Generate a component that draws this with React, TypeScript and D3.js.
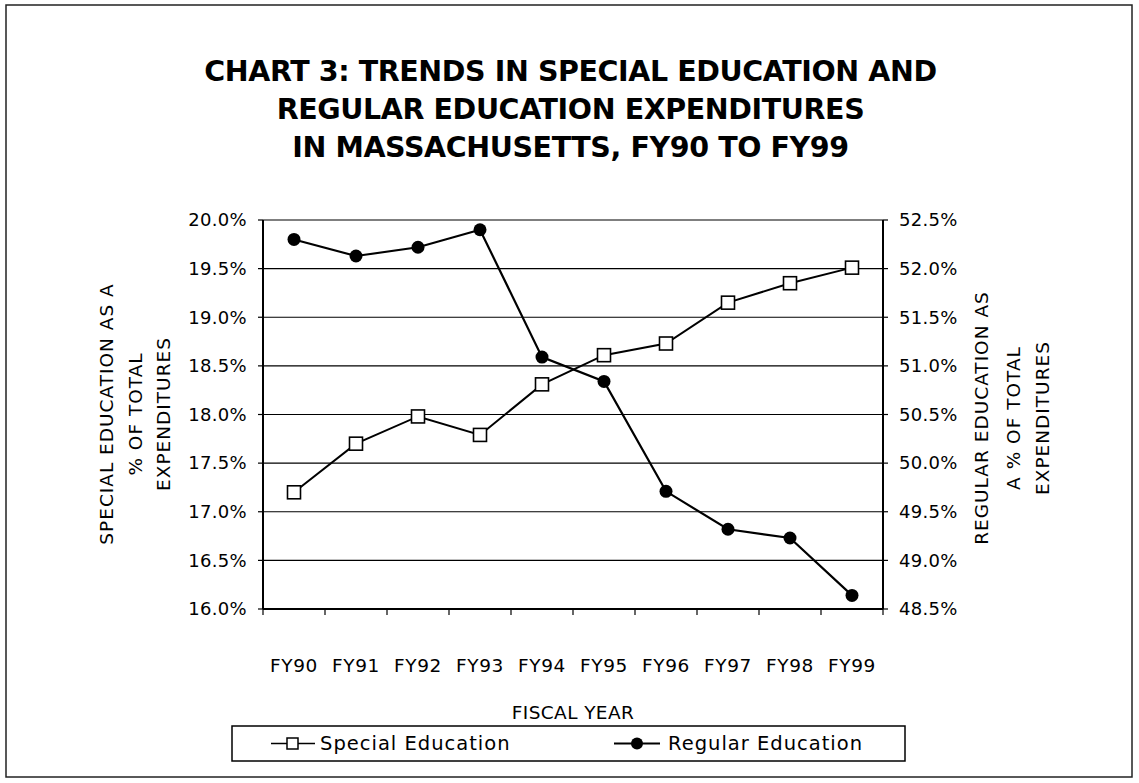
import React from 'react'
import { scaleBand, scaleLinear, line, range } from 'd3'

// fiscal years and the two series (percent of total expenditures)
const years = ['FY90', 'FY91', 'FY92', 'FY93', 'FY94', 'FY95', 'FY96', 'FY97', 'FY98', 'FY99']
const specialEd = [17.2, 17.7, 17.98, 17.79, 18.31, 18.61, 18.73, 19.15, 19.35, 19.51]
const regularEd = [52.3, 52.13, 52.22, 52.4, 51.09, 50.84, 49.71, 49.32, 49.23, 48.64]

const leftTicks = range(16, 20.01, 0.5)
const rightTicks = range(48.5, 52.51, 0.5)

const titleLines = [
  'CHART 3: TRENDS IN SPECIAL EDUCATION AND',
  'REGULAR EDUCATION EXPENDITURES',
  'IN MASSACHUSETTS, FY90 TO FY99',
]
const leftTitle = ['SPECIAL EDUCATION AS A', '% OF TOTAL', 'EXPENDITURES']
const rightTitle = ['REGULAR EDUCATION AS', 'A % OF TOTAL', 'EXPENDITURES']

const W = 1139
const H = 783
const font = '"DejaVu Sans", sans-serif'

const App = () => {
  const plot = { left: 263, right: 883, top: 220, bottom: 609 }

  const x = scaleBand().domain(years).range([plot.left, plot.right])
  const yL = scaleLinear().domain([16, 20]).range([plot.bottom, plot.top])
  const yR = scaleLinear().domain([48.5, 52.5]).range([plot.bottom, plot.top])
  const cx = (d: string) => (x(d) as number) + x.bandwidth() / 2

  const specialPath = line<number>()
    .x((_, i) => cx(years[i]))
    .y(d => yL(d))(specialEd)
  const regularPath = line<number>()
    .x((_, i) => cx(years[i]))
    .y(d => yR(d))(regularEd)

  const boundaries = years.map(d => x(d) as number).concat([plot.right])
  const leftCols = [113, 142, 170]
  const rightCols = [988, 1020, 1049]

  return (
    <svg width={W} height={H} style={{ display: 'block', position: 'absolute', left: 0, top: 0 }}>
      <rect x={0} y={0} width={W} height={H} fill="#fff" />
      <rect x={6} y={5} width={1126} height={772} fill="none" stroke="#222" strokeWidth={1.5} />

      {/* title */}
      {titleLines.map((t, i) => (
        <text key={t} x={W / 2 + 1} y={81 + i * 38} textAnchor="middle" fontFamily={font}
          fontWeight="bold" fontSize={28.5} fill="#000" letterSpacing={-0.4}>{t}</text>
      ))}

      {/* gridlines */}
      {leftTicks.map(t => (
        <line key={'g' + t} x1={plot.left} x2={plot.right} y1={yL(t)} y2={yL(t)} stroke="#000" strokeWidth={1.2} />
      ))}

      {/* left axis */}
      <line x1={plot.left} x2={plot.left} y1={plot.top} y2={plot.bottom} stroke="#000" strokeWidth={2} />
      {leftTicks.map(t => (
        <g key={'l' + t}>
          <line x1={plot.left - 5} x2={plot.left} y1={yL(t)} y2={yL(t)} stroke="#000" strokeWidth={1.2} />
          <text x={plot.left - 16} y={yL(t)} dy="0.35em" textAnchor="end" fontFamily={font}
            fontSize={18} letterSpacing={0.3} fill="#000">{t.toFixed(1) + '%'}</text>
        </g>
      ))}

      {/* right axis */}
      <line x1={plot.right} x2={plot.right} y1={plot.top} y2={plot.bottom} stroke="#000" strokeWidth={2} />
      {rightTicks.map(t => (
        <g key={'r' + t}>
          <line x1={plot.right} x2={plot.right + 5} y1={yR(t)} y2={yR(t)} stroke="#000" strokeWidth={1.2} />
          <text x={plot.right + 16} y={yR(t)} dy="0.35em" fontFamily={font}
            fontSize={18} letterSpacing={0.3} fill="#000">{t.toFixed(1) + '%'}</text>
        </g>
      ))}

      {/* bottom axis */}
      <line x1={plot.left} x2={plot.right} y1={plot.bottom} y2={plot.bottom} stroke="#000" strokeWidth={2} />
      {boundaries.map((b, i) => (
        <line key={'t' + i} x1={b} x2={b} y1={plot.bottom} y2={plot.bottom + 6} stroke="#000" strokeWidth={1.2} />
      ))}
      {years.map(d => (
        <text key={d} x={cx(d)} y={672} textAnchor="middle" fontFamily={font} fontSize={18.5}
          letterSpacing={0.6} fill="#000">{d}</text>
      ))}
      <text x={(plot.left + plot.right) / 2} y={719} textAnchor="middle" fontFamily={font}
        fontSize={18.5} letterSpacing={0.4} fill="#000">FISCAL YEAR</text>

      {/* axis titles */}
      {leftTitle.map((t, i) => (
        <text key={t} transform={`translate(${leftCols[i]},414) rotate(-90)`} textAnchor="middle"
          fontFamily={font} fontSize={18.5} letterSpacing={1} fill="#000">{t}</text>
      ))}
      {rightTitle.map((t, i) => (
        <text key={t} transform={`translate(${rightCols[i]},418) rotate(-90)`} textAnchor="middle"
          fontFamily={font} fontSize={18.5} letterSpacing={1} fill="#000">{t}</text>
      ))}

      {/* series */}
      <path d={specialPath ?? ''} fill="none" stroke="#000" strokeWidth={2} />
      <path d={regularPath ?? ''} fill="none" stroke="#000" strokeWidth={2.2} />
      {specialEd.map((v, i) => (
        <rect key={'s' + i} x={cx(years[i]) - 6.5} y={yL(v) - 6.5} width={13} height={13}
          fill="#fff" stroke="#000" strokeWidth={1.6} />
      ))}
      {regularEd.map((v, i) => (
        <circle key={'c' + i} cx={cx(years[i])} cy={yR(v)} r={6.5} fill="#000" />
      ))}

      {/* legend */}
      <rect x={232} y={726} width={673} height={35} fill="#fff" stroke="#000" strokeWidth={1.5} />
      <line x1={271} x2={315} y1={743.5} y2={743.5} stroke="#000" strokeWidth={1.5} />
      <rect x={287} y={738} width={11} height={11} fill="#fff" stroke="#000" strokeWidth={1.5} />
      <text x={320} y={743.5} dy="0.35em" fontFamily={font} fontSize={19.5} letterSpacing={1}
        fill="#000">Special Education</text>
      <line x1={614} x2={660} y1={743.5} y2={743.5} stroke="#000" strokeWidth={2.2} />
      <circle cx={637} cy={743.5} r={6} fill="#000" />
      <text x={668} y={743.5} dy="0.35em" fontFamily={font} fontSize={19.5} letterSpacing={1}
        fill="#000">Regular Education</text>
    </svg>
  )
}

export default App
